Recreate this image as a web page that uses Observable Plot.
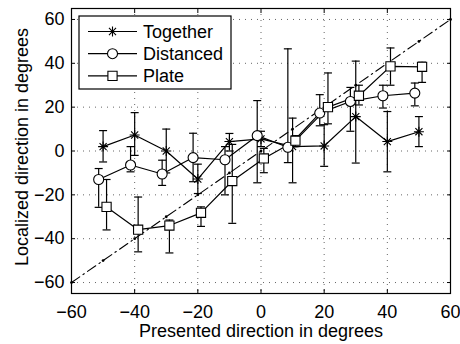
<!DOCTYPE html>
<html>
<head>
<meta charset="utf-8">
<script src="https://cdn.jsdelivr.net/npm/d3@7"></script>
<script src="https://cdn.jsdelivr.net/npm/@observablehq/plot@0.6"></script>
<style>
  html, body { margin: 0; padding: 0; background: #fff; }
  #chart { width: 460px; height: 344px; }
</style>
</head>
<body>
<div id="chart"></div>
<script>
// ---- data ----
const seriesNames = ["Together", "Distanced", "Plate"];

const xTicks = [-60, -40, -20, 0, 20, 40, 60];
const yTicks = [-60, -40, -20, 0, 20, 40, 60];
const xLabel = "Presented direction in degrees";
const yLabel = "Localized direction in degrees";

// identity reference line points (dash-dot with dots)
const diagPoints = [-60, -50, -40, -30, -20, -10, 0, 10, 20, 30, 40, 50, 60];

const xTogether  = [-50, -40, -30, -20, -10, 0, 10, 20, 30, 40, 50];
const yTogether  = [2, 7.3, 0, -12.8, 4.3, 5.5, 2, 2.3, 15.7, 4.3, 8.8];
const loTogether = [-5, -2, -10, -19.4, 0, 2, -14.5, -7, -5.5, -9.5, 2];
const hiTogether = [9.3, 17.5, 10, -6, 8, 9, 15, 12, 41, 18, 15.7];

const xDistanced  = [-51.4, -41.3, -31.3, -21.5, -11.4, -1.2, 8.5, 18.6, 28.3, 38.6, 48.7];
const yDistanced  = [-13, -6.4, -10.5, -3, -4, 7, 1.7, 17.3, 22.6, 25.2, 26.4];
const loDistanced = [-25.7, -9.5, -15.7, -14, -20, -14.5, -5.3, 11.5, 9, 19.6, 20.6];
const hiDistanced = [-8, 2, -4.2, 8.1, 2, 23, 46.6, 25.7, 29, 30, 31];

const xPlate  = [-48.9, -38.9, -29, -19, -9.1, 0.9, 10.9, 21.2, 31, 41, 51];
const yPlate  = [-25.5, -35.9, -34, -28.2, -13.7, -3.4, 4.7, 20, 25.2, 38.6, 38.4];
const loPlate = [-36, -46, -46.5, -34.4, -33, -9.9, 2, 12.4, 21, 30, 31.3];
const hiPlate = [-13, -21, -31.5, -25.5, 3, 1.2, 7, 35.6, 30, 47, 40.5];

// ---- build table ----
function rowsFor(name, xs, ys, los, his) {
  return xs.map((x, i) => ({series: name, x, y: ys[i], lo: los[i], hi: his[i]}));
}
const rows = [
  ...rowsFor("Together", xTogether, yTogether, loTogether, hiTogether),
  ...rowsFor("Distanced", xDistanced, yDistanced, loDistanced, hiDistanced),
  ...rowsFor("Plate", xPlate, yPlate, loPlate, hiPlate)
];

// MATLAB-like markers
const capSymbol = {
  draw(context, size) {
    const r = Math.sqrt(size / Math.PI);
    context.moveTo(-r, 0);
    context.lineTo(r, 0);
  }
};
const starSymbol = {
  draw(context, size) {
    const r = Math.sqrt(size / Math.PI);
    const d = r * Math.SQRT1_2;
    context.moveTo(-r, 0); context.lineTo(r, 0);
    context.moveTo(0, -r); context.lineTo(0, r);
    context.moveTo(-d, -d); context.lineTo(d, d);
    context.moveTo(-d, d); context.lineTo(d, -d);
  }
};
const circleSymbol = d3.symbolCircle;
const squareSymbol = {
  draw(context, size) {
    const r = Math.sqrt(size / Math.PI) * 0.92;
    context.rect(-r, -r, 2 * r, 2 * r);
  }
};
const seriesSymbols = [starSymbol, circleSymbol, squareSymbol];

const font = "'Liberation Sans', Arial, Helvetica, sans-serif";

const chart = Plot.plot({
  width: 460,
  height: 344,
  marginLeft: 71,
  marginRight: 10,
  marginTop: 8,
  marginBottom: 51,
  style: {fontFamily: font, fontSize: "18px", background: "white", color: "black"},
  x: {domain: [-60, 60]},
  y: {domain: [-65, 65]},
  symbol: {domain: seriesNames, range: seriesSymbols, legend: false},
  marks: [
    Plot.gridX(xTicks, {stroke: "#000", strokeOpacity: 0.6, strokeDasharray: "1,5"}),
    Plot.gridY(yTicks, {stroke: "#000", strokeOpacity: 0.6, strokeDasharray: "1,5"}),
    Plot.frame({stroke: "black", strokeWidth: 1.2}),
    Plot.axisX(xTicks, {anchor: "bottom", tickSize: -4, tickPadding: 16, fontSize: 18, label: null}),
    Plot.axisX(xTicks, {anchor: "top", tickSize: -4, text: null, label: null}),
    Plot.axisY(yTicks, {anchor: "left", tickSize: -4, tickPadding: 11, fontSize: 18, label: null}),
    Plot.axisY(yTicks, {anchor: "right", tickSize: -4, text: null, label: null}),
    Plot.line(diagPoints, {x: d => d, y: d => d, stroke: "black", strokeWidth: 1.1, strokeDasharray: "10,4,1.5,4"}),
    Plot.dot(diagPoints, {x: d => d, y: d => d, r: 1.4, fill: "black"}),
    Plot.ruleX(rows, {x: "x", y1: "lo", y2: "hi", stroke: "black", strokeWidth: 1.2}),
    Plot.dot(rows, {x: "x", y: "lo", symbol: capSymbol, r: 4, stroke: "black", strokeWidth: 1.2}),
    Plot.dot(rows, {x: "x", y: "hi", symbol: capSymbol, r: 4, stroke: "black", strokeWidth: 1.2}),
    Plot.line(rows, {x: "x", y: "y", z: "series", stroke: "black", strokeWidth: 1.2}),
    Plot.dot(rows, {x: "x", y: "y", symbol: "series", r: 5, stroke: "black", fill: "white", strokeWidth: 1.1}),
    Plot.text([xLabel], {frameAnchor: "bottom", textAnchor: "middle", lineAnchor: "middle", dy: 38, fontSize: 18, fill: "black"}),
    Plot.text([yLabel], {frameAnchor: "left", textAnchor: "middle", lineAnchor: "middle", dx: -49, dy: -4, rotate: -90, fontSize: 18, fill: "black"})
  ]
});

document.getElementById("chart").appendChild(chart);

// ---- legend box inside the plot (top-left) ----
const svg = d3.select(chart);
const lg = svg.append("g").attr("transform", "translate(79,16)");
lg.append("rect").attr("width", 152).attr("height", 73)
  .attr("fill", "white").attr("stroke", "black").attr("stroke-width", 1.2);
seriesNames.forEach((name, i) => {
  const cy = 15.5 + i * 22.2;
  lg.append("line").attr("x1", 9).attr("x2", 58).attr("y1", cy).attr("y2", cy)
    .attr("stroke", "black").attr("stroke-width", 1.2);
  lg.append("path")
    .attr("d", d3.symbol(seriesSymbols[i], 25 * Math.PI)())
    .attr("transform", `translate(33.5,${cy})`)
    .attr("fill", "white").attr("stroke", "black").attr("stroke-width", 1.1);
  lg.append("text").attr("x", 64).attr("y", cy).attr("dy", "0.35em")
    .attr("text-anchor", "start")
    .attr("font-size", 18).attr("font-family", font).attr("fill", "black").text(name);
});
</script>
</body>
</html>
